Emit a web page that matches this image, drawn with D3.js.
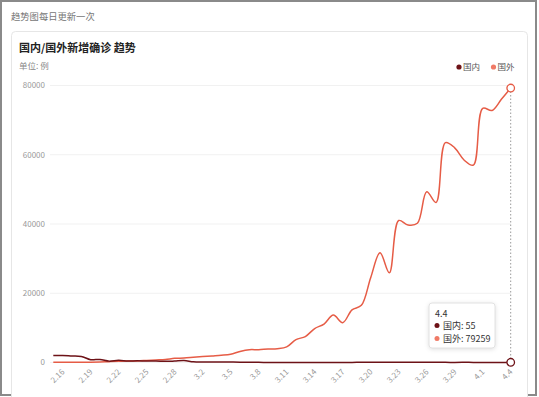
<!DOCTYPE html>
<html><head><meta charset="utf-8">
<script src="https://cdn.jsdelivr.net/npm/d3@7/dist/d3.min.js"></script>
<style>
html,body{margin:0;padding:0;background:#fff;}
svg{display:block;font-family:"Noto Sans CJK SC","Noto Sans",sans-serif;}
</style></head>
<body><svg id="c" width="539" height="397"></svg>
<script>
const dates = ["2.15","2.16","2.17","2.18","2.19","2.20","2.21","2.22","2.23","2.24","2.25","2.26","2.27","2.28","2.29",
"3.1","3.2","3.3","3.4","3.5","3.6","3.7","3.8","3.9","3.10","3.11","3.12","3.13","3.14","3.15","3.16","3.17","3.18","3.19","3.20",
"3.21","3.22","3.23","3.24","3.25","3.26","3.27","3.28","3.29","3.30","3.31","4.1","4.2","4.3","4.4"];
const domestic = [2009,2048,1886,1749,820,889,397,648,409,508,406,433,327,427,573,202,125,119,139,143,99,44,40,19,24,15,8,11,20,16,21,13,34,39,41,46,39,78,47,67,55,54,45,31,48,36,35,31,19,55];
const foreign = [40,50,60,50,100,150,250,350,400,450,600,750,900,1200,1300,1500,1700,1900,2100,2400,3200,3700,3700,3900,4000,4500,6600,7500,9800,11100,13700,11500,15200,16500,24500,31700,25900,41000,39700,40200,49300,46200,63500,62000,58500,57000,73400,72800,76000,79259];
const yTicks = [0,20000,40000,60000,80000];
const seriesNames = ["国内","国外"];
const colors = ["#6d1217","#e65c46"];
const legendColors = ["#6d1217","#f07a66"];
const titleText = "国内/国外新增确诊 趋势";
const unitText = "单位: 例";
const headerText = "趋势图每日更新一次";

const svg = d3.select("#c");
// outer frame
svg.append("rect").attr("x",1).attr("y",1).attr("width",535).attr("height",394)
  .attr("fill","#fff").attr("stroke","#8a8a8a").attr("stroke-width",2);
svg.append("text").attr("x",11).attr("y",20).attr("font-size",9.3).attr("fill","#777").text(headerText);
// card
svg.append("rect").attr("x",11.5).attr("y",31.5).attr("width",516).attr("height",400).attr("rx",4)
  .attr("fill","#fff").attr("stroke","#e6e6e6");
svg.append("text").attr("x",19).attr("y",52).attr("font-size",11).attr("font-weight","bold").attr("fill","#222").text(titleText);
svg.append("text").attr("x",19).attr("y",69).attr("font-size",8.5).attr("fill","#888").text(unitText);

// legend
const legX = [459, 493.5];
seriesNames.forEach((n,k)=>{
  svg.append("circle").attr("cx",legX[k]).attr("cy",67).attr("r",2.6).attr("fill",legendColors[k]);
  svg.append("text").attr("x",legX[k]+4).attr("y",70).attr("font-size",8.5).attr("fill","#555").text(n);
});

const x = d3.scalePoint().domain(dates).range([53.3,510.7]);
const y = d3.scaleLinear().domain([0,80000]).range([362.5,85.5]);

// grid + y labels
const yAxis = svg.append("g");
yTicks.forEach(t=>{
  yAxis.append("line").attr("x1",50).attr("x2",511).attr("y1",y(t)).attr("y2",y(t))
    .attr("stroke","#f1f1f1").attr("stroke-width",1);
  yAxis.append("text").attr("x",45).attr("y",y(t)).attr("dy","0.35em").attr("text-anchor","end")
    .attr("font-size",8).attr("fill","#999").text(t);
});

// x labels
const xl = svg.append("g");
dates.forEach((d,i)=>{
  if ((i-1)%3!==0) return;
  xl.append("text").attr("transform",`translate(${x(d)},370) rotate(-45)`)
    .attr("text-anchor","end").attr("dominant-baseline","central")
    .attr("font-size",8).attr("fill","#999").text(d);
});

// hover line
const last = dates[dates.length-1];
svg.append("line").attr("x1",x(last)).attr("x2",x(last)).attr("y1",y(80000)-1).attr("y2",y(0))
  .attr("stroke","#9a9a9a").attr("stroke-dasharray","1.5,2").attr("stroke-width",1);

const line = d3.line().x((v,i)=>x(dates[i])).y(v=>y(v)).curve(d3.curveCatmullRom.alpha(0.5));
[foreign,domestic].forEach((s,k)=>{
  const idx = k===0?1:0;
  svg.append("path").attr("d",line(s)).attr("fill","none").attr("stroke",colors[idx]).attr("stroke-width",1.5);
});
// end markers
[[domestic,0],[foreign,1]].forEach(([s,k])=>{
  svg.append("circle").attr("cx",x(last)).attr("cy",y(s[s.length-1])).attr("r",3.8)
    .attr("fill","#fff").attr("stroke",colors[k]).attr("stroke-width",1.3);
});

// tooltip
const tt = svg.append("g").attr("transform","translate(429,303)");
tt.append("rect").attr("width",66).attr("height",45).attr("rx",3).attr("fill","#fff")
  .attr("stroke","#e2e2e2").style("filter","drop-shadow(0 1px 2px rgba(0,0,0,0.12))");
tt.append("text").attr("x",6).attr("y",13.5).attr("font-size",9).attr("fill","#333").text(last);
[domestic,foreign].forEach((s,k)=>{
  const yy = 22.5 + k*13;
  tt.append("circle").attr("cx",8).attr("cy",yy).attr("r",2.5).attr("fill",legendColors[k]);
  tt.append("text").attr("x",14).attr("y",yy).attr("dy","0.35em").attr("font-size",9).attr("fill","#333")
    .text(seriesNames[k]+": "+s[s.length-1]);
});
</script></body></html>
